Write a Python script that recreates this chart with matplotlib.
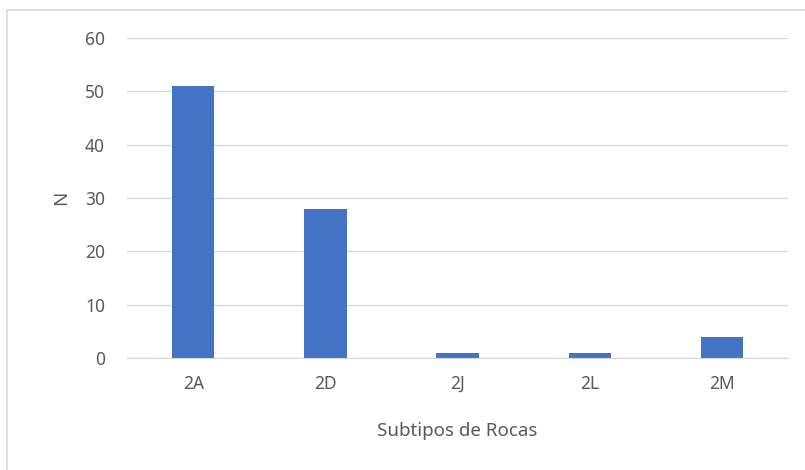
import matplotlib.pyplot as plt
from matplotlib.lines import Line2D

categories = ['2A', '2D', '2J', '2L', '2M']
counts = [51, 28, 1, 1, 4]
y_ticks = [0, 10, 20, 30, 40, 50, 60]

plt.rcParams['font.family'] = ['Noto Sans', 'DejaVu Sans']
text_color = '#595959'

fig = plt.figure(figsize=(8.05, 4.7), dpi=100)
ax = fig.add_axes([0.158, 0.238, 0.821, 0.681])

ax.bar(range(len(categories)), counts, width=0.32, color='#4472C4', zorder=3)

ax.set_xlim(-0.5, len(categories) - 0.5)
ax.set_ylim(0, 60)
ax.set_yticks(y_ticks)
ax.set_xticks(range(len(categories)))
ax.set_xticklabels(categories)
ax.grid(axis='y', color='#D9D9D9', linewidth=1.0, zorder=0)

for side in ['top', 'right', 'left']:
    ax.spines[side].set_visible(False)
ax.spines['bottom'].set_color('#D9D9D9')
ax.spines['bottom'].set_zorder(4)

ax.tick_params(axis='both', length=0, labelsize=12.5, labelcolor=text_color)
ax.tick_params(axis='y', pad=16)
ax.tick_params(axis='x', pad=12)

ax.set_xlabel('Subtipos de Rocas', fontsize=13.5, color=text_color, labelpad=21)
ax.set_ylabel('N', fontsize=13.5, color=text_color, labelpad=11)

# outer chart frame (top and left visible)
fig.add_artist(Line2D([7 / 805, 1.0], [1 - 10 / 470, 1 - 10 / 470],
                      transform=fig.transFigure, color='#D9D9D9', linewidth=1.2))
fig.add_artist(Line2D([7 / 805, 7 / 805], [0.0, 1 - 10 / 470],
                      transform=fig.transFigure, color='#D9D9D9', linewidth=1.2))

fig.savefig('out.png', dpi=100)
